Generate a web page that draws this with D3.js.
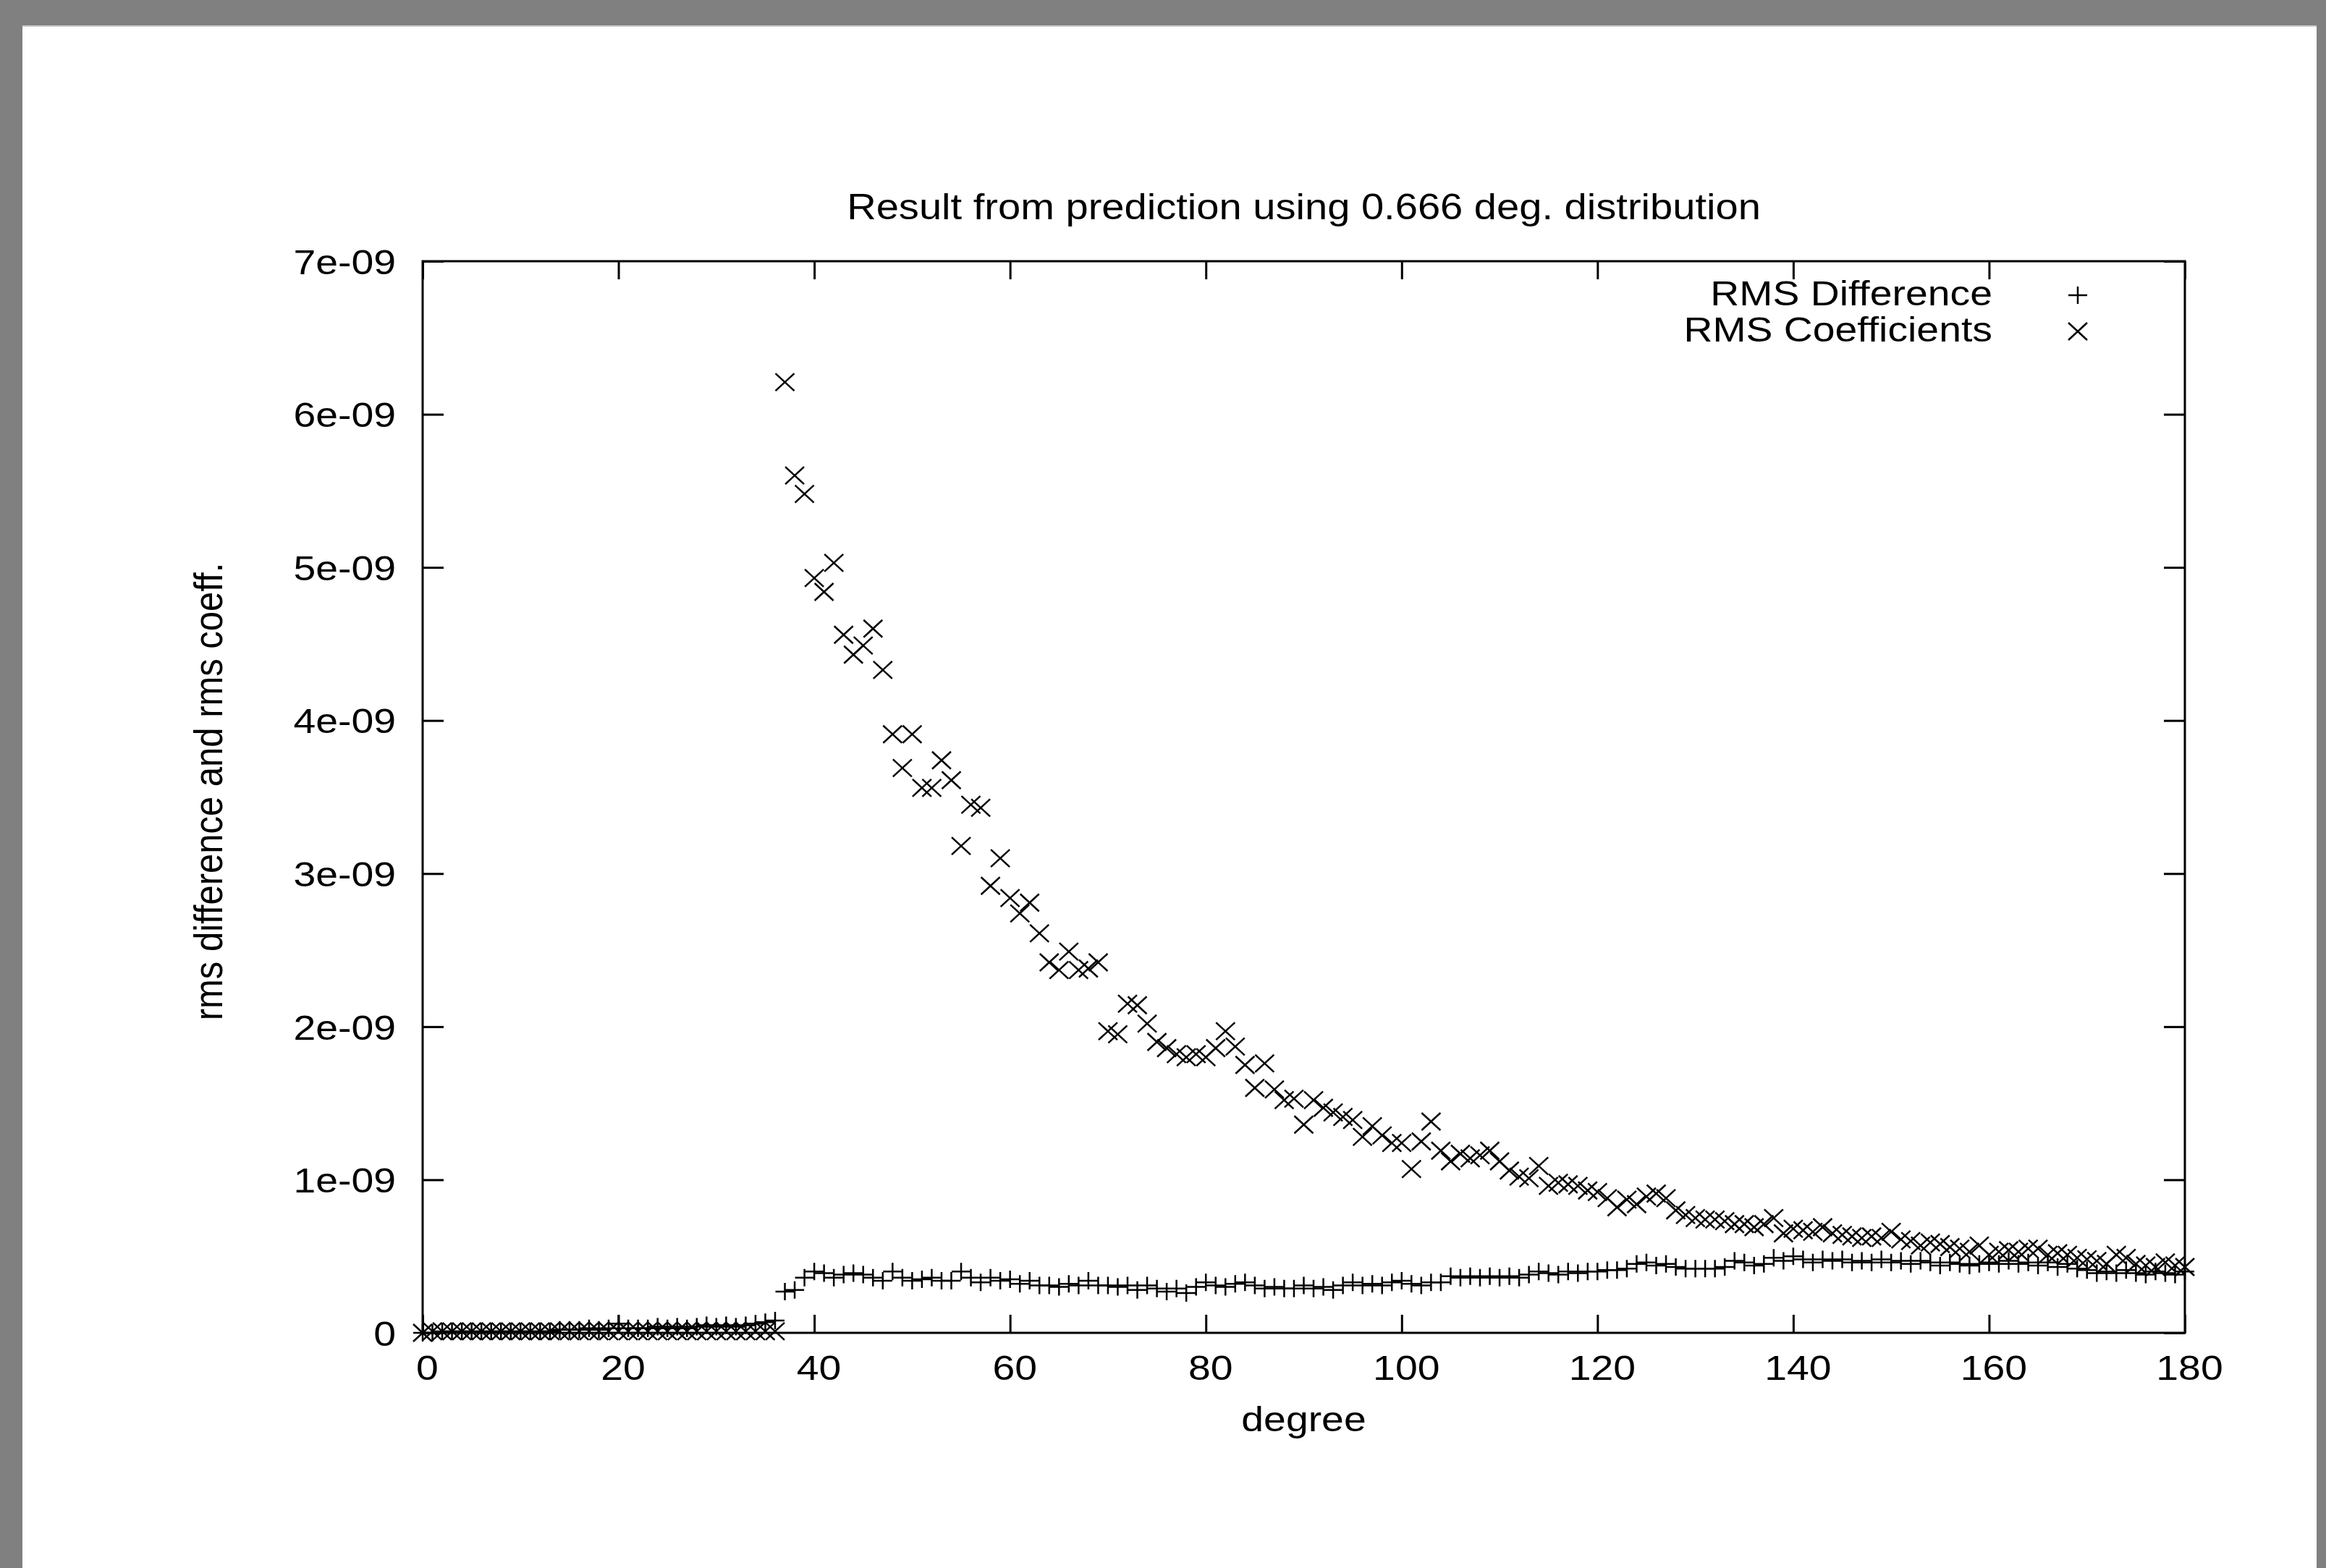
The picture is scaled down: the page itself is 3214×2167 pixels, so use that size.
<!DOCTYPE html>
<html>
<head>
<meta charset="utf-8">
<script src="https://cdnjs.cloudflare.com/ajax/libs/d3/7.8.5/d3.min.js"></script>
<style>
  body { margin: 0; background: #808080; }
  svg { display: block; }
  text { font-family: "Liberation Sans", Arial, sans-serif; font-size: 49px; fill: #000; }
</style>
</head>
<body>
<svg id="chart"></svg>
<script>
// spherical harmonic degree
var degrees = d3.range(0, 181);

// values in units of 1e-9
var rmsDiff = [
  0.00,0.00,0.01,0.01,0.01,0.01,0.01,0.01,0.01,0.01,
  0.01,0.01,0.01,0.01,0.02,0.02,0.02,0.03,0.02,0.03,
  0.06,0.03,0.03,0.03,0.04,0.03,0.04,0.03,0.04,0.05,
  0.04,0.05,0.04,0.05,0.06,0.07,0.08,0.27,0.28,0.36,
  0.40,0.39,0.36,0.38,0.39,0.38,0.36,0.34,0.40,0.36,
  0.34,0.35,0.36,0.34,0.34,0.40,0.36,0.33,0.36,0.34,
  0.35,0.32,0.34,0.31,0.31,0.30,0.32,0.31,0.34,0.31,
  0.31,0.30,0.31,0.28,0.31,0.29,0.27,0.29,0.26,0.30,
  0.33,0.31,0.30,0.32,0.33,0.31,0.29,0.30,0.29,0.29,
  0.31,0.29,0.30,0.28,0.31,0.33,0.31,0.32,0.31,0.33,
  0.34,0.32,0.31,0.33,0.33,0.37,0.36,0.37,0.36,0.37,
  0.36,0.37,0.36,0.38,0.40,0.39,0.38,0.40,0.39,0.40,
  0.40,0.41,0.41,0.42,0.45,0.46,0.44,0.45,0.43,0.42,
  0.42,0.42,0.42,0.43,0.47,0.46,0.44,0.45,0.49,0.47,
  0.50,0.48,0.46,0.48,0.47,0.48,0.46,0.47,0.46,0.48,
  0.46,0.47,0.45,0.47,0.46,0.44,0.46,0.45,0.44,0.45,
  0.46,0.45,0.47,0.45,0.46,0.44,0.46,0.43,0.45,0.42,
  0.41,0.39,0.40,0.39,0.41,0.39,0.38,0.40,0.39,0.38,
  0.40
];

var rmsCoeff = [
  0.00,0.01,0.01,0.01,0.01,0.01,0.01,0.01,0.01,0.01,
  0.01,0.01,0.01,0.01,0.01,0.01,0.01,0.01,0.01,0.01,
  0.01,0.01,0.01,0.01,0.01,0.01,0.01,0.01,0.01,0.01,
  0.01,0.01,0.01,0.01,0.01,0.01,0.01,6.21,5.60,5.48,
  4.93,4.84,5.03,4.56,4.43,4.49,4.60,4.33,3.91,3.69,
  3.91,3.56,3.56,3.74,3.61,3.18,3.45,3.43,2.92,3.10,
  2.84,2.74,2.81,2.61,2.42,2.37,2.49,2.37,2.38,2.42,
  1.97,1.95,2.15,2.14,2.02,1.90,1.86,1.82,1.80,1.82,
  1.80,1.86,1.97,1.87,1.75,1.60,1.76,1.59,1.52,1.53,
  1.36,1.52,1.47,1.44,1.41,1.39,1.28,1.35,1.29,1.24,
  1.24,1.07,1.25,1.38,1.19,1.12,1.17,1.14,1.16,1.19,
  1.12,1.06,1.02,1.01,1.09,0.96,0.98,0.97,0.96,0.93,
  0.92,0.88,0.82,0.87,0.84,0.89,0.91,0.88,0.80,0.77,
  0.75,0.74,0.74,0.73,0.71,0.71,0.69,0.71,0.75,0.65,
  0.68,0.67,0.66,0.69,0.65,0.64,0.63,0.62,0.63,0.62,
  0.66,0.61,0.60,0.57,0.59,0.58,0.56,0.55,0.53,0.57,
  0.51,0.53,0.54,0.53,0.55,0.55,0.51,0.52,0.51,0.49,
  0.48,0.47,0.45,0.51,0.49,0.45,0.44,0.43,0.46,0.44,
  0.43
];

var unit = 1e-9;
var xTicks = [0, 20, 40, 60, 80, 100, 120, 140, 160, 180];
var yTicks = [0, 1e-9, 2e-9, 3e-9, 4e-9, 5e-9, 6e-9, 7e-9];
var yTickLabels = ["0", "1e-09", "2e-09", "3e-09", "4e-09", "5e-09", "6e-09", "7e-09"];
var seriesNames = ["RMS Difference", "RMS Coefficients"];
var titleText = "Result from prediction using 0.666 deg. distribution";
var xLabelText = "degree";
var yLabelText = "rms difference and rms coeff.";

var W = 3214, H = 2167,
    plot = {left: 584, right: 3019, top: 361, bottom: 1842},
    sx = 1.13,   // the original text is a little wider than it is tall
    markW = 13, markH = 12;

var svg = d3.select("#chart").attr("width", W).attr("height", H);

// grey surround and white page
svg.append("rect").attr("width", W).attr("height", H).attr("fill", "#808080");
svg.append("rect")
  .attr("x", 31).attr("y", 35)
  .attr("width", 3201 - 31).attr("height", H - 35)
  .attr("fill", "#fff");
svg.append("line")
  .attr("x1", 31).attr("x2", 3201).attr("y1", 36).attr("y2", 36)
  .attr("stroke", "#c8c8c8").attr("stroke-width", 2);

var x = d3.scaleLinear().domain([0, 180]).range([plot.left, plot.right]);
var y = d3.scaleLinear().domain([0, 7e-9]).range([plot.bottom, plot.top]);

// axes, ticks inward on all four sides
function styleAxis(g) {
  g.select(".domain").remove();
  g.selectAll(".tick line").attr("stroke", "#000").attr("stroke-width", 3);
  g.attr("font-size", null).attr("font-family", null);
}

svg.append("g")
  .attr("transform", "translate(0," + plot.bottom + ")")
  .call(d3.axisBottom(x).tickValues(xTicks).tickSize(-25))
  .call(styleAxis)
  .selectAll("text")
    .attr("x", 6 / sx).attr("y", 65).attr("dy", null)
    .attr("transform", "scale(" + sx + ",1)");

svg.append("g")
  .attr("transform", "translate(0," + plot.top + ")")
  .call(d3.axisTop(x).tickValues(xTicks).tickSize(-25).tickFormat(""))
  .call(styleAxis);

svg.append("g")
  .attr("transform", "translate(" + plot.left + ",0)")
  .call(d3.axisLeft(y).tickValues(yTicks).tickSize(-29)
    .tickFormat(function(d, i) { return yTickLabels[i]; }))
  .call(styleAxis)
  .selectAll("text")
    .attr("x", -37 / sx).attr("dy", "0.35em")
    .attr("transform", "scale(" + sx + ",1)");

svg.append("g")
  .attr("transform", "translate(" + plot.right + ",0)")
  .call(d3.axisRight(y).tickValues(yTicks).tickSize(-29).tickFormat(""))
  .call(styleAxis);

// border
svg.append("rect")
  .attr("x", plot.left).attr("y", plot.top)
  .attr("width", plot.right - plot.left).attr("height", plot.bottom - plot.top)
  .attr("fill", "none").attr("stroke", "#000").attr("stroke-width", 3);

// point markers
function plusPath(cx, cy) {
  return "M" + (cx - markW) + "," + cy + "H" + (cx + markW) +
         "M" + cx + "," + (cy - markH) + "V" + (cy + markH);
}
function crossPath(cx, cy) {
  return "M" + (cx - markW) + "," + (cy - markH) + "L" + (cx + markW) + "," + (cy + markH) +
         "M" + (cx - markW) + "," + (cy + markH) + "L" + (cx + markW) + "," + (cy - markH);
}

var marks = svg.append("g")
  .attr("fill", "none").attr("stroke", "#000").attr("stroke-width", 2.5);

marks.selectAll("path.diff")
  .data(degrees)
  .enter().append("path")
  .attr("class", "diff")
  .attr("d", function(d, i) { return plusPath(x(d), y(rmsDiff[i] * unit)); });

marks.selectAll("path.coeff")
  .data(degrees)
  .enter().append("path")
  .attr("class", "coeff")
  .attr("d", function(d, i) { return crossPath(x(d), y(rmsCoeff[i] * unit)); });

// text helper: stretched horizontally like the original
function label(px, py, str, anchor, rotate, stretch) {
  var g = svg.append("g")
    .attr("transform", "translate(" + px + "," + py + ") scale(" + (stretch || sx) + ",1)" +
      (rotate ? " rotate(" + rotate + ")" : ""));
  g.append("text").attr("text-anchor", anchor).text(str);
  return g;
}

label((plot.left + plot.right) / 2, 303, titleText, "middle", 0, 1.145);
label((plot.left + plot.right) / 2, 1978, xLabelText, "middle");
label(307, 1094, yLabelText, "middle", -90);

// key
var keyRows = [
  {name: seriesNames[0], path: plusPath, y: 422},
  {name: seriesNames[1], path: crossPath, y: 472}
];
keyRows.forEach(function(k) {
  label(2753, k.y, k.name, "end");
  marks.append("path").attr("d", k.path(2871, k.y - 14));
});
</script>
</body>
</html>
